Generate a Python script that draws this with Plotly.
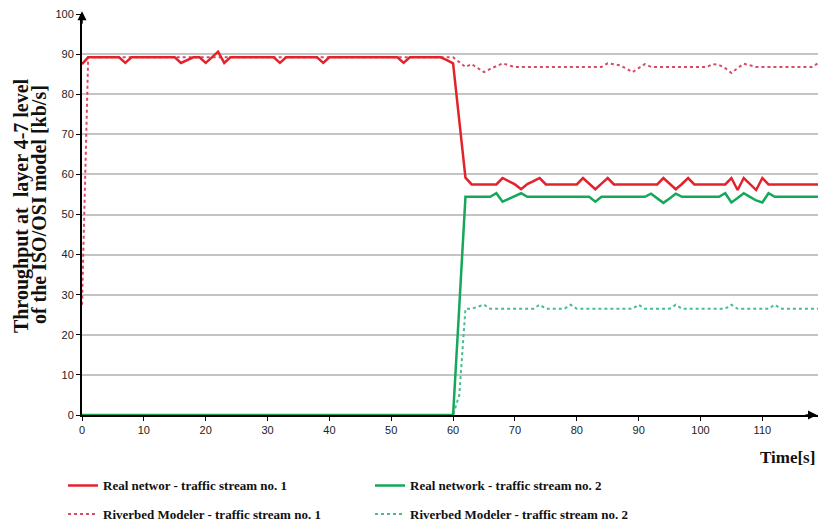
import plotly.graph_objects as go

time_s = list(range(0, 120))

real_stream1 = [
    87.5, 89.2, 89.2, 89.2, 89.2, 89.2, 89.2, 87.8, 89.2, 89.2,
    89.2, 89.2, 89.2, 89.2, 89.2, 89.2, 87.8, 88.5, 89.2, 89.2,
    87.8, 89.2, 90.6, 87.8, 89.2, 89.2, 89.2, 89.2, 89.2, 89.2,
    89.2, 89.2, 87.8, 89.2, 89.2, 89.2, 89.2, 89.2, 89.2, 87.8,
    89.2, 89.2, 89.2, 89.2, 89.2, 89.2, 89.2, 89.2, 89.2, 89.2,
    89.2, 89.2, 87.8, 89.2, 89.2, 89.2, 89.2, 89.2, 89.2, 88.5,
    87.7, 73.4, 59.2, 57.5, 57.5, 57.5, 57.5, 57.5, 59.1, 58.3,
    57.5, 56.3, 57.6, 58.3, 59.1, 57.5, 57.5, 57.5, 57.5, 57.5,
    57.5, 59.1, 57.6, 56.3, 57.7, 59.1, 57.5, 57.5, 57.5, 57.5,
    57.5, 57.5, 57.5, 57.5, 59.1, 57.6, 56.3, 57.6, 59.1, 57.5,
    57.5, 57.5, 57.5, 57.5, 57.5, 59.1, 56.1, 59.1, 57.5, 56.1,
    59.1, 57.5, 57.5, 57.5, 57.5, 57.5, 57.5, 57.5, 57.5, 57.5,
]

real_stream2 = [0.0] * 61 + [
    27.0, 54.4, 54.4, 54.4, 54.4, 54.4, 55.3, 53.2, 53.9,
    54.6, 55.3, 54.4, 54.4, 54.4, 54.4, 54.4, 54.4, 54.4, 54.4,
    54.4, 54.4, 54.4, 53.2, 54.4, 54.4, 54.4, 54.4, 54.4, 54.4,
    54.4, 54.4, 55.2, 54.1, 52.9, 54.0, 55.2, 54.4, 54.4, 54.4,
    54.4, 54.4, 54.4, 54.4, 55.3, 53.0, 54.1, 55.3, 54.4, 53.5,
    53.0, 55.3, 54.4, 54.4, 54.4, 54.4, 54.4, 54.4, 54.4, 54.4,
]

riverbed_stream1 = [27.5] + [89.2] * 59 + [
    89.2, 88.0, 86.8, 87.5, 86.5, 85.5, 86.3, 87.0, 87.7, 87.2,
    86.8, 86.8, 86.8, 86.8, 86.8, 86.8, 86.8, 86.8, 86.8, 86.8,
    86.8, 86.8, 86.8, 86.8, 86.8, 87.7, 87.5, 87.2, 86.4, 85.5,
    86.5, 87.5, 86.8, 86.8, 86.8, 86.8, 86.8, 86.8, 86.8, 86.8,
    86.8, 86.8, 87.5, 87.3, 86.5, 85.3, 86.5, 87.6, 87.2, 86.8,
    86.8, 86.8, 86.8, 86.8, 86.8, 86.8, 86.8, 86.8, 86.8, 87.7,
]

riverbed_stream2 = [0.0] * 61 + [
    5.0, 26.5, 26.5, 27.0, 27.5, 26.5, 26.5, 26.5, 26.5,
    26.5, 26.5, 26.5, 26.5, 27.5, 26.5, 26.5, 26.5, 26.5, 27.5,
    26.5, 26.5, 26.5, 26.5, 26.5, 26.5, 26.5, 26.5, 26.5, 26.5,
    27.5, 26.5, 26.5, 26.5, 26.5, 26.5, 27.5, 26.5, 26.5, 26.5,
    26.5, 26.5, 26.5, 26.5, 26.5, 27.5, 26.5, 26.5, 26.5, 26.5,
    26.5, 26.5, 27.5, 26.5, 26.5, 26.5, 26.5, 26.5, 26.5, 26.5,
]

x_ticks = [0, 10, 20, 30, 40, 50, 60, 70, 80, 90, 100, 110]
y_ticks = [0, 10, 20, 30, 40, 50, 60, 70, 80, 90, 100]

series_names = [
    "Real networ - traffic stream no. 1",
    "Real network - traffic stream no. 2",
    "Riverbed Modeler - traffic stream no. 1",
    "Riverbed Modeler - traffic stream no. 2",
]

RED = "#E3232B"
GREEN = "#16A85A"
RED_DOT = "#D84A68"
GREEN_DOT = "#45BE8C"

fig = go.Figure()
fig.add_trace(go.Scatter(x=time_s, y=riverbed_stream1, mode="lines", name="<b>" + series_names[2] + "</b>",
                         line=dict(color=RED_DOT, width=2, dash="dot"), legend="legend2", legendrank=1))
fig.add_trace(go.Scatter(x=time_s, y=riverbed_stream2, mode="lines", name="<b>" + series_names[3] + "</b>",
                         line=dict(color=GREEN_DOT, width=2, dash="dot"), legend="legend2", legendrank=2))
fig.add_trace(go.Scatter(x=time_s, y=real_stream1, mode="lines", name="<b>" + series_names[0] + "</b>",
                         line=dict(color=RED, width=2.5), legend="legend", legendrank=1))
fig.add_trace(go.Scatter(x=time_s, y=real_stream2, mode="lines", name="<b>" + series_names[1] + "</b>",
                         line=dict(color=GREEN, width=2.5), legend="legend", legendrank=2))

# Layout geometry: the visible page area is treated as 826 x 537 (with the
# browser's default 8px body margin); target positions are given in the
# 826 x 527 picture's coordinates and scaled vertically by K.
OFF = 8
PAGE_W, PAGE_H = 826, 537
K = PAGE_H / 527.0
W, H = PAGE_W - 2 * OFF, PAGE_H - 2 * OFF

def page_y(y_img):
    return y_img * K

PLOT_L, PLOT_R = 82, 818
PLOT_T, PLOT_B = page_y(12), page_y(415)
ml = PLOT_L - OFF
mr = (PAGE_W - OFF) - PLOT_R
mt = round(PLOT_T - OFF)
mb = round((PAGE_H - OFF) - PLOT_B)
pw, ph = W - ml - mr, H - mt - mb

def px(x_img):
    return (x_img - OFF - ml) / pw

def py(y_img):
    return (H - mb - (page_y(y_img) - OFF)) / ph

serif = "Liberation Serif, Times New Roman, serif"
legend_font = dict(family=serif, size=13, color="#111111")
leg_common = dict(orientation="h", xanchor="left", yanchor="middle", font=legend_font,
                  entrywidth=262, entrywidthmode="pixels", bgcolor="rgba(0,0,0,0)",
                  itemwidth=30, traceorder="normal")

tick_font = dict(family="Liberation Sans, Arial, sans-serif", size=11, color="#222222")

fig.update_layout(
    width=W, height=H,
    margin=dict(l=ml, r=mr, t=mt, b=mb, pad=0),
    paper_bgcolor="white", plot_bgcolor="white",
    showlegend=True,
    legend=dict(x=px(63), y=py(486), **leg_common),
    legend2=dict(x=px(63), y=py(515), **leg_common),
    xaxis=dict(range=[0, 119], tickmode="array", tickvals=x_ticks, ticktext=[str(v) for v in x_ticks],
               showgrid=False, zeroline=False, showline=True, linecolor="#000000", linewidth=2,
               ticks="outside", ticklen=4, tickcolor="#000000", tickwidth=1, tickfont=tick_font,
               ticklabeloverflow="allow"),
    yaxis=dict(range=[0, 100], tickmode="array", tickvals=y_ticks, ticktext=[str(v) for v in y_ticks],
               showgrid=True, gridcolor="#C4C4C4", gridwidth=1.5, zeroline=False,
               showline=True, linecolor="#000000", linewidth=2,
               ticks="outside", ticklen=4, tickcolor="#000000", tickwidth=1, tickfont=tick_font,
               ticklabeloverflow="allow"),
)

title_font = dict(family=serif, size=20, color="#111111")
fig.add_annotation(text="<b>Throughput at  layer 4-7 level</b>",
                   xref="paper", yref="paper", x=px(21), y=py(205), textangle=-90,
                   showarrow=False, font=title_font, xanchor="center", yanchor="middle")
fig.add_annotation(text="<b>of the ISO/OSI model [kb/s]</b>",
                   xref="paper", yref="paper", x=px(39), y=py(204), textangle=-90,
                   showarrow=False, font=title_font, xanchor="center", yanchor="middle")
fig.add_annotation(text="<b>Time[s]</b>", xref="paper", yref="paper", x=px(817), y=py(458),
                   showarrow=False, font=dict(family=serif, size=17, color="#111111"),
                   xanchor="right", yanchor="middle")

# axis arrowheads
fig.add_annotation(x=0, y=py(9), xref="paper", yref="paper", ax=0, ay=14, axref="pixel", ayref="pixel",
                   text="", showarrow=True, arrowhead=2, arrowsize=1.2, arrowwidth=1.5, arrowcolor="#000000")
fig.add_annotation(x=1, y=0, xref="paper", yref="paper", ax=-14, ay=0, axref="pixel", ayref="pixel",
                   text="", showarrow=True, arrowhead=2, arrowsize=1.2, arrowwidth=1.5, arrowcolor="#000000")

fig.write_html("out.html", config={"displayModeBar": False})
